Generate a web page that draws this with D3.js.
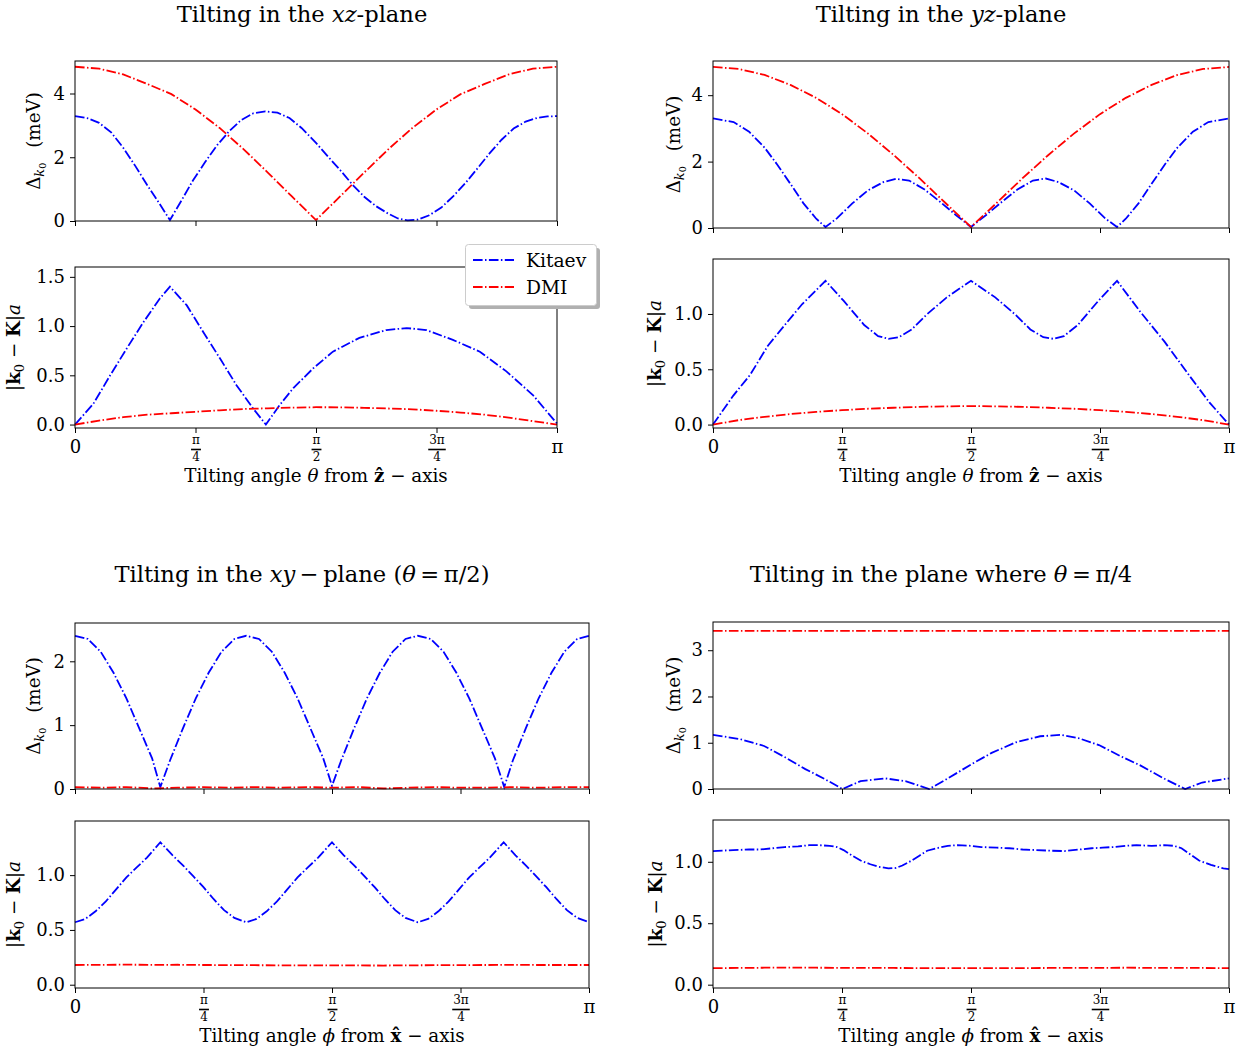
<!DOCTYPE html>
<html>
<head>
<meta charset="utf-8">
<script src="https://cdn.jsdelivr.net/npm/d3@7"></script>
<style>
  body { margin: 0; background: #fff; }
  svg { display: block; font-family: "DejaVu Serif", serif; }
</style>
</head>
<body>
<div id="chart"></div>
<script>
// angles are given as fractions of pi
const grid21 = [0, 0.05, 0.1, 0.15, 0.2, 0.25, 0.3, 0.35, 0.4, 0.45, 0.5,
    0.55, 0.6, 0.65, 0.7, 0.75, 0.8, 0.85, 0.9, 0.95, 1];

// tilting in the xz-plane
const xzGapKitaevAngle = [0, 0.025, 0.05, 0.075, 0.1, 0.125, 0.15, 0.175, 0.197, 0.22, 0.245, 0.27,
    0.295, 0.32, 0.345, 0.37, 0.395, 0.42, 0.445, 0.47, 0.5, 0.525, 0.55, 0.575, 0.6, 0.625, 0.65,
    0.67, 0.69, 0.71, 0.735, 0.76, 0.785, 0.81, 0.835, 0.86, 0.885, 0.91, 0.935, 0.96, 0.98, 1];
const xzGapKitaev = [3.29, 3.23, 3.08, 2.78, 2.30, 1.73, 1.12, 0.55, 0.03, 0.62, 1.28, 1.85,
    2.38, 2.82, 3.17, 3.38, 3.44, 3.40, 3.23, 2.92, 2.45, 2.02, 1.60, 1.15, 0.76, 0.46, 0.23,
    0.08, 0.02, 0.04, 0.18, 0.42, 0.78, 1.19, 1.65, 2.12, 2.55, 2.90, 3.12, 3.24, 3.28, 3.29];
const xzGapDmi = [4.84, 4.78, 4.60, 4.30, 3.98, 3.50, 2.92, 2.25, 1.52, 0.77, 0.03,
    0.77, 1.52, 2.25, 2.92, 3.50, 3.98, 4.30, 4.60, 4.78, 4.84];
const xzShiftKitaevAngle = [0, 0.038, 0.073, 0.107, 0.142, 0.176, 0.197, 0.232, 0.266, 0.301, 0.335,
    0.37, 0.396, 0.425, 0.453, 0.494, 0.535, 0.59, 0.646, 0.688, 0.729, 0.784, 0.84, 0.895, 0.95, 1];
const xzShiftKitaev = [0, 0.21, 0.50, 0.77, 1.04, 1.28, 1.40, 1.21, 0.94, 0.67, 0.40,
    0.16, 0.0, 0.20, 0.37, 0.57, 0.74, 0.88, 0.96, 0.98, 0.96, 0.86, 0.74, 0.54, 0.30, 0.01];
const xzShiftDmi = [0, 0.04, 0.075, 0.10, 0.115, 0.13, 0.145, 0.158, 0.165, 0.172, 0.176,
    0.175, 0.17, 0.163, 0.155, 0.14, 0.122, 0.10, 0.07, 0.035, 0];

// tilting in the yz-plane
const yzGapKitaevAngle = [0, 0.04, 0.07, 0.1, 0.125, 0.15, 0.175, 0.2, 0.218, 0.24, 0.27, 0.3,
    0.33, 0.355, 0.38, 0.41, 0.44, 0.47, 0.5, 0.53, 0.56, 0.59, 0.62, 0.645, 0.67, 0.7, 0.73,
    0.76, 0.783, 0.8, 0.825, 0.85, 0.875, 0.9, 0.93, 0.96, 1];
const yzGapKitaev = [3.30, 3.19, 2.90, 2.42, 1.90, 1.33, 0.75, 0.28, 0.03, 0.29, 0.74, 1.13,
    1.38, 1.48, 1.43, 1.16, 0.79, 0.40, 0.03, 0.40, 0.79, 1.16, 1.43, 1.49, 1.38, 1.13, 0.74,
    0.29, 0.03, 0.28, 0.75, 1.33, 1.90, 2.42, 2.90, 3.19, 3.30];
const yzGapDmi = [4.85, 4.79, 4.61, 4.31, 3.92, 3.43, 2.85, 2.20, 1.50, 0.76, 0.03,
    0.76, 1.50, 2.20, 2.85, 3.43, 3.92, 4.31, 4.61, 4.79, 4.85];
const yzShiftKitaevAngle = [0, 0.039, 0.072, 0.106, 0.139, 0.173, 0.218, 0.253, 0.293, 0.32, 0.34,
    0.36, 0.385, 0.413, 0.453, 0.5, 0.547, 0.587, 0.615, 0.64, 0.66, 0.68, 0.707, 0.747, 0.783,
    0.828, 0.875, 0.922, 0.962, 1];
const yzShiftKitaev = [0, 0.26, 0.45, 0.71, 0.90, 1.09, 1.30, 1.12, 0.90, 0.80, 0.775,
    0.79, 0.86, 0.99, 1.15, 1.30, 1.15, 0.99, 0.86, 0.79, 0.775, 0.80, 0.90, 1.12, 1.30,
    1.02, 0.75, 0.45, 0.20, 0];
const yzShiftDmi = [0, 0.04, 0.07, 0.095, 0.115, 0.13, 0.143, 0.152, 0.16, 0.165, 0.167,
    0.165, 0.16, 0.152, 0.143, 0.13, 0.115, 0.095, 0.07, 0.04, 0];

// tilting in the xy-plane (theta = pi/2)
const xyGapKitaevAngle = [0, 0.025, 0.05, 0.075, 0.1, 0.125, 0.15, 0.166, 0.185, 0.21, 0.235, 0.26,
    0.285, 0.31, 0.333, 0.358, 0.383, 0.408, 0.433, 0.458, 0.483, 0.5, 0.518, 0.543, 0.568,
    0.593, 0.618, 0.643, 0.667, 0.692, 0.717, 0.742, 0.767, 0.792, 0.817, 0.835, 0.852, 0.877,
    0.902, 0.927, 0.952, 0.977, 1];
const xyGapKitaev = [2.40, 2.35, 2.15, 1.82, 1.42, 0.95, 0.48, 0.03, 0.45, 0.95, 1.42, 1.82,
    2.15, 2.35, 2.40, 2.35, 2.15, 1.82, 1.42, 0.95, 0.48, 0.05, 0.45, 0.95, 1.42,
    1.82, 2.15, 2.35, 2.40, 2.35, 2.15, 1.82, 1.42, 0.95, 0.48, 0.03, 0.45, 0.95,
    1.42, 1.82, 2.15, 2.35, 2.40];
const xyGapDmi = [0.03, 0.02, 0.03, 0.01, 0.02, 0.03, 0.02, 0.03, 0.02, 0.03, 0.02,
    0.03, 0.01, 0.02, 0.03, 0.02, 0.02, 0.03, 0.02, 0.03, 0.03];
const xyShiftKitaevAngle = [0, 0.02, 0.04, 0.06, 0.08, 0.1, 0.12, 0.14, 0.166, 0.19, 0.21, 0.23,
    0.25, 0.27, 0.29, 0.31, 0.333, 0.353, 0.373, 0.393, 0.413, 0.433, 0.453, 0.473, 0.5, 0.523,
    0.543, 0.563, 0.583, 0.603, 0.623, 0.643, 0.667, 0.687, 0.707, 0.727, 0.747, 0.767, 0.787,
    0.807, 0.834, 0.857, 0.877, 0.897, 0.917, 0.937, 0.957, 0.977, 1];
const xyShiftKitaev = [0.57, 0.60, 0.67, 0.76, 0.87, 0.98, 1.07, 1.16, 1.30, 1.18, 1.09, 0.99,
    0.89, 0.78, 0.68, 0.61, 0.57, 0.60, 0.67, 0.76, 0.87, 0.98, 1.07, 1.16, 1.30, 1.18,
    1.09, 0.99, 0.89, 0.78, 0.68, 0.61, 0.57, 0.60, 0.67, 0.76, 0.87, 0.98, 1.07,
    1.16, 1.30, 1.18, 1.09, 0.99, 0.89, 0.78, 0.68, 0.61, 0.57];
const xyShiftDmi = [0.180, 0.181, 0.183, 0.181, 0.182, 0.180, 0.179, 0.178, 0.177, 0.177, 0.176,
    0.176, 0.175, 0.177, 0.178, 0.179, 0.180, 0.181, 0.180, 0.180, 0.180];

// tilting in the plane where theta = pi/4
const qGapKitaevAngle = [0, 0.052, 0.099, 0.139, 0.179, 0.219, 0.251, 0.286, 0.333, 0.373, 0.419,
    0.454, 0.5, 0.54, 0.587, 0.634, 0.674, 0.708, 0.748, 0.788, 0.828, 0.875, 0.915, 0.948, 1];
const qGapKitaev = [1.17, 1.08, 0.93, 0.69, 0.43, 0.20, 0.0, 0.17, 0.23, 0.17, 0.0,
    0.22, 0.53, 0.78, 1.01, 1.14, 1.17, 1.10, 0.95, 0.72, 0.51, 0.22, 0.0, 0.14, 0.23];
const qGapDmi = [3.42, 3.42, 3.42, 3.42, 3.42, 3.42, 3.42, 3.42, 3.42, 3.42, 3.42,
    3.42, 3.42, 3.42, 3.42, 3.42, 3.42, 3.42, 3.42, 3.42, 3.42];
const qShiftKitaevAngle = [0, 0.039, 0.07, 0.092, 0.115, 0.139, 0.165, 0.186, 0.205, 0.226, 0.24,
    0.253, 0.27, 0.286, 0.305, 0.32, 0.34, 0.355, 0.367, 0.385, 0.4, 0.415, 0.433, 0.455, 0.474,
    0.5, 0.52, 0.55, 0.574, 0.6, 0.627, 0.655, 0.681, 0.71, 0.734, 0.755, 0.775, 0.8, 0.821,
    0.85, 0.875, 0.893, 0.908, 0.925, 0.942, 0.965, 0.989, 1];
const qShiftKitaev = [1.087, 1.095, 1.10, 1.10, 1.11, 1.12, 1.125, 1.135, 1.135, 1.13, 1.12,
    1.095, 1.05, 1.01, 0.98, 0.96, 0.946, 0.95, 0.97, 1.01, 1.05, 1.09, 1.11, 1.13, 1.135,
    1.13, 1.12, 1.115, 1.11, 1.10, 1.095, 1.09, 1.087, 1.10, 1.11, 1.115, 1.12, 1.13, 1.135,
    1.13, 1.135, 1.13, 1.11, 1.06, 1.01, 0.975, 0.946, 0.94];
const qShiftDmi = [0.135, 0.136, 0.138, 0.139, 0.138, 0.137, 0.136, 0.136, 0.135, 0.134, 0.135,
    0.134, 0.135, 0.136, 0.137, 0.137, 0.138, 0.137, 0.137, 0.136, 0.135];

const xTickValues = [0, Math.PI / 4, Math.PI / 2, 3 * Math.PI / 4, Math.PI];
const xTickLabels = [{num: '0'}, {num: 'π', den: '4'}, {num: 'π', den: '2'}, {num: '3π', den: '4'}, {num: 'π'}];
const seriesNames = ['Kitaev', 'DMI'];
const seriesColors = ['#0000ff', '#ff0000'];

const dash = '9.6,2.4,1.5,2.4';
const svg = d3.select('#chart').append('svg')
    .attr('width', 1245)
    .attr('height', 1053);

const panels = [
    {
        title: [['Tilting in the ', ''], ['xz', 'i'], ['-plane', '']],
        titleX: 302, titleY: 22, x0: 75, x1: 557, angle: 'θ', axisName: 'ẑ', xlabelY: 482,
        gap: {y0: 61, y1: 221, domain: [0, 5.02], ticks: [0, 2, 4], labelDx: -35,
            lines: [[xzGapKitaevAngle, xzGapKitaev], [grid21, xzGapDmi]]},
        shift: {y0: 267, y1: 428, domain: [-0.035, 1.6], ticks: [0, 0.5, 1, 1.5], labelDx: -55,
            lines: [[xzShiftKitaevAngle, xzShiftKitaev], [grid21, xzShiftDmi]]},
        legend: true
    },
    {
        title: [['Tilting in the ', ''], ['yz', 'i'], ['-plane', '']],
        titleX: 941, titleY: 22, x0: 713, x1: 1229, angle: 'θ', axisName: 'ẑ', xlabelY: 482,
        gap: {y0: 61, y1: 228, domain: [0, 5.03], ticks: [0, 2, 4], labelDx: -33,
            lines: [[yzGapKitaevAngle, yzGapKitaev], [grid21, yzGapDmi]]},
        shift: {y0: 259, y1: 428, domain: [-0.031, 1.497], ticks: [0, 0.5, 1], labelDx: -52,
            lines: [[yzShiftKitaevAngle, yzShiftKitaev], [grid21, yzShiftDmi]]}
    },
    {
        title: [['Tilting in the ', ''], ['xy', 'i'], ['\u2009−\u2009plane (', ''], ['θ', 'i'], ['\u2009=\u2009π/2)', '']],
        titleX: 302, titleY: 582, x0: 75, x1: 589, angle: 'ϕ', axisName: 'x̂', xlabelY: 1042,
        gap: {y0: 623, y1: 789, domain: [0, 2.6], ticks: [0, 1, 2], labelDx: -35,
            lines: [[xyGapKitaevAngle, xyGapKitaev], [grid21, xyGapDmi]]},
        shift: {y0: 821, y1: 988, domain: [-0.03, 1.494], ticks: [0, 0.5, 1], labelDx: -55,
            lines: [[xyShiftKitaevAngle, xyShiftKitaev], [grid21, xyShiftDmi]]}
    },
    {
        title: [['Tilting in the plane where ', ''], ['θ', 'i'], ['\u2009=\u2009π/4', '']],
        titleX: 941, titleY: 582, x0: 713, x1: 1229, angle: 'ϕ', axisName: 'x̂', xlabelY: 1042,
        gap: {y0: 622, y1: 789, domain: [0, 3.61], ticks: [0, 1, 2, 3], labelDx: -33,
            lines: [[qGapKitaevAngle, qGapKitaev], [grid21, qGapDmi]]},
        shift: {y0: 820, y1: 988, domain: [-0.027, 1.34], ticks: [0, 0.5, 1], labelDx: -51,
            lines: [[qShiftKitaevAngle, qShiftKitaev], [grid21, qShiftDmi]]}
    }
];

function richText(text, parts) {
    parts.forEach(([s, style]) => {
        const t = text.append('tspan').text(s);
        if (style === 'i') t.attr('font-style', 'italic');
        if (style === 'b') t.attr('font-weight', 'bold');
    });
}

function gapLabel(text) {
    text.append('tspan').text('Δ');
    text.append('tspan').attr('font-style', 'italic').attr('font-size', 13).attr('dy', 4).text('k');
    text.append('tspan').attr('font-size', 9.5).attr('dy', 2).text('0');
    text.append('tspan').attr('dy', -6).text('\u2002 (meV)');
}

function shiftLabel(text) {
    text.append('tspan').text('|');
    text.append('tspan').attr('font-weight', 'bold').text('k');
    text.append('tspan').attr('font-size', 13).attr('dy', 4).text('0');
    text.append('tspan').attr('dy', -4).text(' − ');
    text.append('tspan').attr('font-weight', 'bold').text('K');
    text.append('tspan').text('|');
    text.append('tspan').attr('font-style', 'italic').text('a');
}

function drawSubplot(g, p, spec, scaleX, withXLabels, labelFn, fmt) {
    let scaleY = d3.scaleLinear().domain(spec.domain).range([spec.y1, spec.y0]);
    let line = d3.line()
        .x((d) => scaleX(d[0] * Math.PI))
        .y((d) => scaleY(d[1]));

    // curves, Kitaev first and DMI on top
    g.append('g')
        .selectAll('path')
        .data(spec.lines)
        .enter()
        .append('path')
        .attr('d', (pair) => line(d3.zip(pair[0], pair[1])))
        .attr('fill', 'none')
        .attr('stroke', (pair, i) => seriesColors[i])
        .attr('stroke-width', 1.8)
        .attr('stroke-dasharray', dash);

    // y axis
    let ya = g.append('g')
        .attr('transform', `translate(${p.x0},0)`)
        .call(d3.axisLeft(scaleY).tickValues(spec.ticks).tickSize(5).tickPadding(5).tickFormat(fmt));
    ya.attr('font-family', null).attr('font-size', 18);
    ya.select('.domain').remove();
    ya.selectAll('line').attr('stroke', '#000');
    ya.selectAll('text').attr('fill', '#000');

    // x axis: ticks, with pi-fraction labels only on the lower plot
    let xa = g.append('g')
        .attr('transform', `translate(0,${spec.y1})`)
        .call(d3.axisBottom(scaleX).tickValues(xTickValues).tickSize(5).tickFormat(() => ''));
    xa.attr('font-family', null).attr('font-size', null);
    xa.select('.domain').remove();
    xa.selectAll('line').attr('stroke', '#000');
    xa.selectAll('.tick text').remove();
    if (withXLabels) {
        xa.selectAll('.tick').each(function (d, i) {
            let lab = xTickLabels[i];
            let tk = d3.select(this);
            if (!lab.den) {
                tk.append('text').attr('y', 25).attr('text-anchor', 'middle')
                    .attr('font-size', 18).attr('fill', '#000').text(lab.num);
            } else {
                let num = tk.append('text').attr('y', 16).attr('text-anchor', 'middle')
                    .attr('font-size', 12).attr('fill', '#000').text(lab.num);
                let w = num.node().getComputedTextLength() + 2;
                tk.append('line').attr('x1', -w / 2).attr('x2', w / 2).attr('y1', 21.5).attr('y2', 21.5)
                    .attr('stroke', '#000').attr('stroke-width', 1.6);
                tk.append('text').attr('y', 33).attr('text-anchor', 'middle')
                    .attr('font-size', 12).attr('fill', '#000').text(lab.den);
            }
        });
    }

    // box
    g.append('rect')
        .attr('x', p.x0).attr('y', spec.y0)
        .attr('width', p.x1 - p.x0).attr('height', spec.y1 - spec.y0)
        .attr('fill', 'none').attr('stroke', '#000').attr('stroke-width', 1);

    // y label
    let cy = (spec.y0 + spec.y1) / 2;
    let t = g.append('text')
        .attr('transform', `translate(${p.x0 + spec.labelDx},${cy}) rotate(-90)`)
        .attr('text-anchor', 'middle')
        .attr('font-size', 18.3)
        .attr('fill', '#000');
    labelFn(t);
}

panels.forEach((p) => {
    let g = svg.append('g');
    let scaleX = d3.scaleLinear().domain([0, Math.PI]).range([p.x0, p.x1]);

    let title = g.append('text')
        .attr('x', p.titleX).attr('y', p.titleY)
        .attr('text-anchor', 'middle')
        .attr('font-size', 22.6)
        .attr('fill', '#000');
    richText(title, p.title);

    drawSubplot(g, p, p.gap, scaleX, false, gapLabel, d3.format('d'));
    drawSubplot(g, p, p.shift, scaleX, true, shiftLabel, d3.format('.1f'));

    let xl = g.append('text')
        .attr('x', (p.x0 + p.x1) / 2).attr('y', p.xlabelY)
        .attr('text-anchor', 'middle')
        .attr('font-size', 18.3)
        .attr('fill', '#000');
    richText(xl, [['Tilting angle ', ''], [p.angle, 'i'], [' from ', ''], [p.axisName, 'b'], [' − axis', '']]);

    if (p.legend) {
        let lg = g.append('g').attr('transform', 'translate(465,244)');
        lg.append('rect').attr('x', 4).attr('y', 4).attr('width', 131).attr('height', 61)
            .attr('rx', 3).attr('fill', '#b0b0b0');
        lg.append('rect').attr('x', 0.5).attr('y', 0.5).attr('width', 131).attr('height', 61)
            .attr('rx', 3).attr('fill', '#fff').attr('stroke', '#ccc');
        let item = lg.selectAll('g.item')
            .data(seriesNames)
            .enter()
            .append('g')
            .attr('class', 'item')
            .attr('transform', (name, i) => `translate(0, ${16 + 27 * i})`);
        item.append('line')
            .attr('x1', 8).attr('x2', 49).attr('y1', 0).attr('y2', 0)
            .attr('stroke', (name, i) => seriesColors[i])
            .attr('stroke-width', 1.8)
            .attr('stroke-dasharray', dash);
        item.append('text')
            .attr('x', 61).attr('y', 6.5)
            .attr('font-size', 18.7)
            .attr('fill', '#000')
            .text((name) => name);
    }
});
</script>
</body>
</html>
